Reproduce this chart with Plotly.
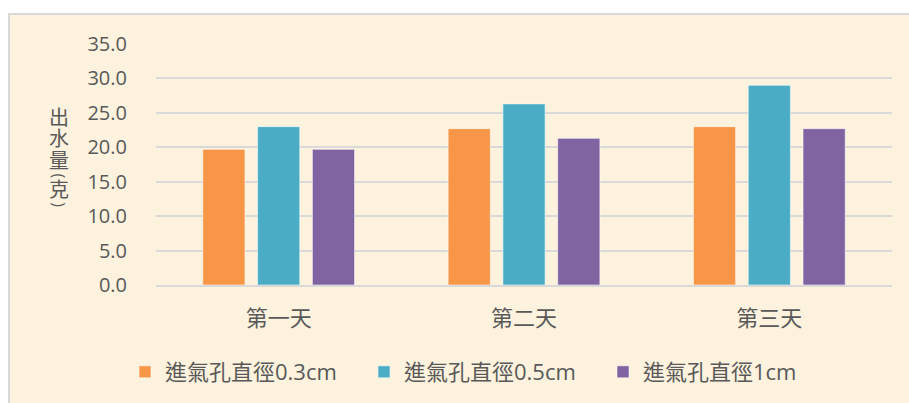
import plotly.graph_objects as go

# Data
days = ["第一天", "第二天", "第三天"]
series_names = ["進氣孔直徑0.3cm", "進氣孔直徑0.5cm", "進氣孔直徑1cm"]
water_03 = [19.7, 22.7, 23.0]
water_05 = [23.0, 26.3, 29.0]
water_10 = [19.7, 21.3, 22.7]
y_ticks = [0, 5, 10, 15, 20, 25, 30, 35]
y_title_chars = ["出", "水", "量", "(", "克", ")"]

colors = ["#F79646", "#4BACC6", "#8064A2"]
text_color = "#595959"
latin_cjk = "Open Sans, Noto Sans CJK TC, sans-serif"
cjk = "Noto Sans CJK TC, sans-serif"
tight_cjk = "Liberation Sans, Noto Sans CJK TC, sans-serif"

W, H = 909, 403
L, R, T, B = 156, 17, 44, 117
plot_w = W - L - R
plot_h = H - T - B


def px_x(px):
    return (px - L) / plot_w


def px_y(py):
    return (H - B - py) / plot_h


fig = go.Figure()
for name, vals, col in zip(series_names, [water_03, water_05, water_10], colors):
    fig.add_trace(go.Bar(
        x=days, y=vals, name=name,
        marker=dict(color=col, line=dict(color="rgba(255,255,255,0.55)", width=1)),
    ))

# chart area panel with light border
fig.add_shape(type="rect", xref="paper", yref="paper",
              x0=px_x(9), x1=px_x(W + 6), y0=px_y(H + 6), y1=px_y(14),
              fillcolor="#FDF2DD", line=dict(color="#D9D9D9", width=2),
              layer="below")

# vertical, upright axis title: one character per row, parentheses turned
title_rows = [118, 139.5, 161, 176, 190.5, 205]
for ch, cy in zip(y_title_chars, title_rows):
    turned = ch in "()"
    fig.add_annotation(
        text=ch, xref="paper", yref="paper", x=px_x(59), y=px_y(cy),
        xanchor="center", yanchor="middle", showarrow=False,
        textangle=90 if turned else 0, borderpad=0,
        font=dict(family=latin_cjk if turned else tight_cjk,
                  size=16 if turned else 20, color=text_color),
    )

fig.update_layout(
    width=W, height=H,
    margin=dict(l=L, r=R, t=T, b=B),
    paper_bgcolor="white",
    plot_bgcolor="rgba(0,0,0,0)",
    bargap=0.33, bargroupgap=0.23,
    showlegend=True,
    legend=dict(orientation="h", x=px_x(125), y=px_y(372), xanchor="left",
                yanchor="middle", bgcolor="rgba(0,0,0,0)",
                font=dict(family=latin_cjk, size=22, color=text_color),
                itemwidth=30, entrywidth=194, entrywidthmode="pixels"),
    font=dict(family=latin_cjk, color=text_color),
)
fig.update_yaxes(range=[0, 35], tickvals=y_ticks, tickformat=".1f",
                 showgrid=True, gridcolor="#D9D9D9", gridwidth=1.5,
                 zeroline=False, showline=False, ticks="",
                 ticklabelstandoff=28,
                 tickfont=dict(family=latin_cjk, size=20, color=text_color))
fig.update_xaxes(showgrid=False, showline=True, linecolor="#D9D9D9", linewidth=1.5,
                 ticks="", ticklabelstandoff=13,
                 tickfont=dict(family=cjk, size=22, color=text_color))

fig.write_html("out.html")
